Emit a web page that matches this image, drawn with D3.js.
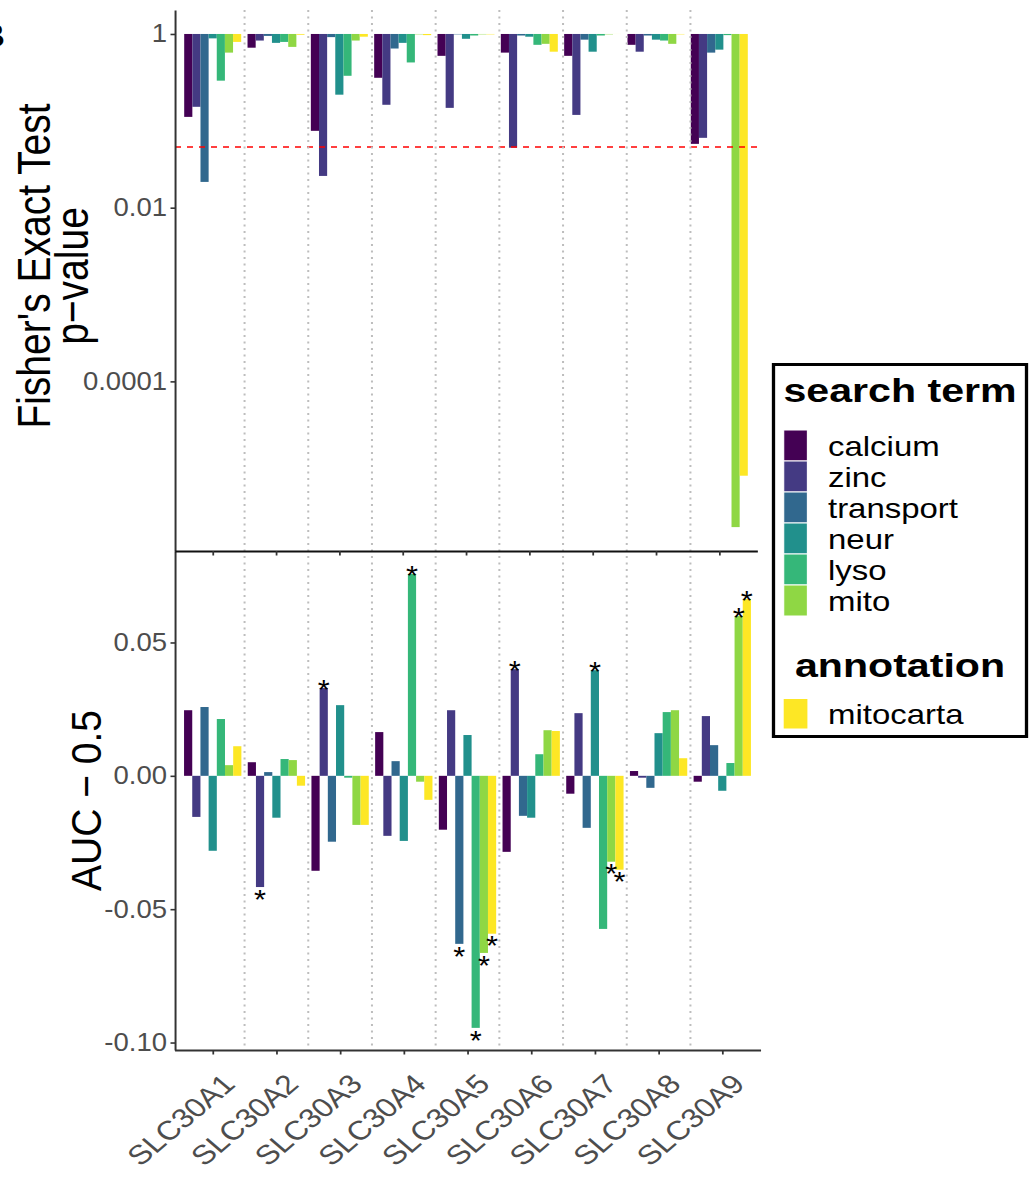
<!DOCTYPE html>
<html>
<head>
<meta charset="utf-8">
<script src="https://cdn.jsdelivr.net/npm/d3@7"></script>
<style>
  body { margin: 0; background: #fff; }
  svg { display: block; }
</style>
</head>
<body>
<script>
// data
var genes = ["SLC30A1", "SLC30A2", "SLC30A3", "SLC30A4", "SLC30A5", "SLC30A6", "SLC30A7", "SLC30A8", "SLC30A9"];
var terms = ["calcium", "zinc", "transport", "neur", "lyso", "mito", "mitocarta"];
var termColors = ["#440154", "#443A83", "#31688E", "#21908C", "#35B779", "#8FD744", "#FDE725"];

// Fisher's exact test p-values, one array per term (gene order as above)
var pCalcium   = [0.111, 0.695, 0.0767, 0.313, 0.56, 0.61, 0.56, 0.75, 0.0543];
var pZinc      = [0.145, 0.84, 0.0232, 0.153, 0.141, 0.049, 0.117, 0.625, 0.0637];
var pTransport = [0.0198, 0.95, 0.92, 0.68, 0.99, 0.96, 0.86, 0.96, 0.61];
var pNeur      = [0.89, 0.79, 0.2, 0.79, 0.88, 0.93, 0.625, 0.86, 0.66];
var pLyso      = [0.29, 0.81, 0.33, 0.47, 0.96, 0.75, 0.96, 0.84, 0.97];
var pMito      = [0.61, 0.71, 0.84, 0.99, 0.99, 0.77, 0.99, 0.77, 2.1e-6];
var pMitocarta = [0.81, 0.98, 0.93, 0.97, 0.99, 0.625, 0.999, 0.99, 8.2e-6];

// AUC - 0.5
var aucCalcium   = [0.0246, 0.0051, -0.0356, 0.0164, -0.0202, -0.0285, -0.0067, 0.0018, -0.0022];
var aucZinc      = [-0.0154, -0.0417, 0.0329, -0.0225, 0.0246, 0.0400, 0.0235, -0.0007, 0.0224];
var aucTransport = [0.0258, 0.0014, -0.0247, 0.0055, -0.0630, -0.0150, -0.0195, -0.0045, 0.0115];
var aucNeur      = [-0.0281, -0.0157, 0.0265, -0.0244, 0.0153, -0.0157, 0.0396, 0.0160, -0.0056];
var aucLyso      = [0.0213, 0.0063, -0.0007, 0.0757, -0.0945, 0.0081, -0.0574, 0.0239, 0.0048];
var aucMito      = [0.0040, 0.0059, -0.0184, -0.0022, -0.0664, 0.0171, -0.0322, 0.0246, 0.0599];
var aucMitocarta = [0.0111, -0.0037, -0.0184, -0.0090, -0.0592, 0.0168, -0.0352, 0.0066, 0.0663];

// significant AUC bars
var starred = [
  ["SLC30A2", "zinc"], ["SLC30A3", "zinc"], ["SLC30A4", "lyso"],
  ["SLC30A5", "transport"], ["SLC30A5", "lyso"], ["SLC30A5", "mito"], ["SLC30A5", "mitocarta"],
  ["SLC30A6", "zinc"], ["SLC30A7", "neur"], ["SLC30A7", "mito"], ["SLC30A7", "mitocarta"],
  ["SLC30A9", "mito"], ["SLC30A9", "mitocarta"]
];

var pTicks = [1, 0.01, 0.0001];
var pTickLabels = ["1", "0.01", "0.0001"];
var aucTicks = [-0.10, -0.05, 0.00, 0.05];
var aucTickLabels = ["-0.10", "-0.05", "0.00", "0.05"];
var pCutoff = 0.05;

var searchTerms = ["calcium", "zinc", "transport", "neur", "lyso", "mito"];
var annotations = ["mitocarta"];

var pByTerm = [pCalcium, pZinc, pTransport, pNeur, pLyso, pMito, pMitocarta];
var aucByTerm = [aucCalcium, aucZinc, aucTransport, aucNeur, aucLyso, aucMito, aucMitocarta];

// the picture is a little wider than tall, so draw in a squeezed box and stretch it
var S = 1.1;
var W = 1035 / S, H = 1183;
function ix(px) { return px / S; }

var font = "'Liberation Sans', Arial, Helvetica, sans-serif";
var grey = "#4d4d4d";

var svg = d3.select("body").append("svg")
    .attr("width", 1035)
    .attr("height", H)
    .attr("viewBox", [0, 0, W, H].join(" "))
    .attr("preserveAspectRatio", "none")
    .style("font-family", font);

var color = d3.scaleOrdinal().domain(terms).range(termColors);

var xTop = d3.scalePoint().domain(genes).range([ix(174.7), ix(757.3)]).padding(0.6);
var xBot = d3.scalePoint().domain(genes).range([ix(174.5), ix(760.5)]).padding(0.6);
var dodge = d3.scaleBand().domain(terms).range([-0.45, 0.45]);

var yTop = d3.scaleLog().domain([Math.pow(10, 0.276), Math.pow(10, -5.953)]).range([10, 551]);
var yBot = d3.scaleLinear().domain([0.0843, -0.1028]).range([551, 1050]);

var rows = [];
genes.forEach(function (g, i) {
  terms.forEach(function (t, j) {
    rows.push({gene: g, term: t, p: pByTerm[j][i], auc: aucByTerm[j][i]});
  });
});

// top: p-value bars hanging from 1
var sTop = xTop.step();
svg.append("g").selectAll("rect")
    .data(rows)
  .enter().append("rect")
    .attr("x", function (d) { return xTop(d.gene) + dodge(d.term) * sTop; })
    .attr("width", dodge.bandwidth() * sTop)
    .attr("y", yTop(1))
    .attr("height", function (d) { return yTop(d.p) - yTop(1); })
    .attr("fill", function (d) { return color(d.term); });

// bottom: AUC bars
var sBot = xBot.step();
svg.append("g").selectAll("rect")
    .data(rows)
  .enter().append("rect")
    .attr("x", function (d) { return xBot(d.gene) + dodge(d.term) * sBot; })
    .attr("width", dodge.bandwidth() * sBot)
    .attr("y", function (d) { return yBot(Math.max(0, d.auc)); })
    .attr("height", function (d) { return Math.abs(yBot(d.auc) - yBot(0)); })
    .attr("fill", function (d) { return color(d.term); });

// p = 0.05 line
svg.append("line")
    .attr("x1", ix(175)).attr("x2", ix(760))
    .attr("y1", yTop(pCutoff)).attr("y2", yTop(pCutoff))
    .attr("stroke", "#ff0000")
    .attr("stroke-width", 1.4)
    .attr("stroke-dasharray", ix(6) + "," + ix(6));

// dotted separators between genes, across both panels
svg.append("g").selectAll("line")
    .data(genes.slice(0, -1))
  .enter().append("line")
    .attr("x1", function (d) { return xBot(d) + sBot / 2; })
    .attr("x2", function (d) { return xBot(d) + sBot / 2; })
    .attr("y1", 10).attr("y2", 1048)
    .attr("stroke", "#bdbdbd")
    .attr("stroke-width", ix(2))
    .attr("stroke-dasharray", "2,4.5");

// stars
var starSize = 28;
var rowByKey = {};
rows.forEach(function (d) { rowByKey[d.gene + "|" + d.term] = d; });
svg.append("g").selectAll("text")
    .data(starred.map(function (s) { return rowByKey[s[0] + "|" + s[1]]; }))
  .enter().append("text")
    .attr("x", function (d) { return xBot(d.gene) + (dodge(d.term) + dodge.bandwidth() / 2) * sBot; })
    .attr("y", function (d) {
      var c = d.auc > 0 ? yBot(d.auc) - 5.5 : yBot(d.auc) + 5.5;
      return c + 0.58 * starSize;
    })
    .attr("text-anchor", "middle")
    .attr("font-size", starSize)
    .attr("fill", "#000")
    .text("*");

// axes
function styleAxis(g) {
  g.attr("font-family", font);
  g.select(".domain").attr("stroke", "#333").attr("stroke-width", 1.8);
  g.selectAll(".tick line").attr("stroke", "#333").attr("stroke-width", 1.6);
  g.selectAll(".tick text").attr("fill", grey).attr("font-size", 25);
}

svg.append("g")
    .attr("transform", "translate(" + ix(175) + ",0)")
    .call(d3.axisLeft(yTop).tickValues(pTicks)
      .tickFormat(function (d, i) { return pTickLabels[i]; })
      .tickSize(ix(4.5)).tickSizeOuter(0).tickPadding(ix(3.5)))
    .call(styleAxis);

svg.append("g")
    .attr("transform", "translate(" + ix(175) + ",0)")
    .call(d3.axisLeft(yBot).tickValues(aucTicks)
      .tickFormat(function (d, i) { return aucTickLabels[i]; })
      .tickSize(ix(4.5)).tickSizeOuter(0).tickPadding(ix(3.5)))
    .call(styleAxis);

svg.append("g")
    .attr("transform", "translate(0,551)")
    .call(d3.axisBottom(xTop).tickSize(4.5).tickSizeOuter(0).tickFormat(""))
    .call(styleAxis)
    .select(".domain").attr("stroke", "#111");

svg.append("g")
    .attr("transform", "translate(0,1050)")
    .call(d3.axisBottom(xBot).tickSize(4.5).tickSizeOuter(0).tickFormat(""))
    .call(styleAxis);

// gene labels at 45 degrees
svg.append("g").selectAll("text")
    .data(genes)
  .enter().append("text")
    .attr("transform", function (d) {
      return "translate(" + (xBot(d) + ix(8)) + ",1072) scale(1.07,1) rotate(-45)";
    })
    .attr("text-anchor", "end")
    .attr("dy", "0.71em")
    .attr("font-size", 27)
    .attr("fill", grey)
    .text(function (d) { return d; });

// axis titles
var tTop = svg.append("text")
    .attr("transform", "translate(" + ix(50) + ",266) scale(1.08,1) rotate(-90)")
    .attr("text-anchor", "middle")
    .attr("font-size", 39)
    .attr("fill", "#000");
tTop.append("tspan").attr("x", 0).attr("y", 0).text("Fisher's Exact Test");
tTop.append("tspan").attr("x", -10).attr("y", ix(35)).text("p\u2212value");

svg.append("text")
    .attr("transform", "translate(" + ix(101) + ",800.5) rotate(-90)")
    .attr("text-anchor", "middle")
    .attr("font-size", 39)
    .attr("fill", "#000")
    .text("AUC \u2212 0.5");

// cut-off panel tag at the top-left corner
svg.append("text")
    .attr("x", ix(5)).attr("y", 47)
    .attr("text-anchor", "end")
    .attr("font-size", 34)
    .attr("font-weight", "bold")
    .text("B");

// legend
var leg = svg.append("g");
leg.append("rect")
    .attr("x", ix(773.5)).attr("y", 364.5)
    .attr("width", ix(253)).attr("height", 372)
    .attr("fill", "#fff")
    .attr("stroke", "#000")
    .attr("stroke-width", 3);

function legendTitle(label, y) {
  leg.append("text")
      .attr("transform", "translate(" + ix(900) + "," + y + ") scale(1.1,1)")
      .attr("text-anchor", "middle")
      .attr("font-size", 34).attr("font-weight", "bold")
      .text(label);
}
legendTitle("search term", 402);

var keyH = 31, keyTop = 430;
var keys = leg.selectAll("g.key")
    .data(searchTerms)
  .enter().append("g").attr("class", "key");
keys.append("rect")
    .attr("x", ix(783.7)).attr("width", ix(23.7))
    .attr("y", function (d, i) { return keyTop + i * keyH; })
    .attr("height", keyH)
    .attr("fill", function (d) { return color(d); })
    .attr("stroke", "#fff").attr("stroke-width", 1);
keys.append("text")
    .attr("transform", function (d, i) {
      return "translate(" + ix(828) + "," + (keyTop + i * keyH + keyH / 2 + 10) + ") scale(1.07,1)";
    })
    .attr("font-size", 28)
    .text(function (d) { return d; });

legendTitle("annotation", 677);

var ann = leg.selectAll("g.ann")
    .data(annotations)
  .enter().append("g").attr("class", "ann");
ann.append("rect")
    .attr("x", ix(783.7)).attr("width", ix(23.7))
    .attr("y", function (d, i) { return 699 + i * keyH; })
    .attr("height", 29.5)
    .attr("fill", function (d) { return color(d); });
ann.append("text")
    .attr("transform", function (d, i) {
      return "translate(" + ix(828) + "," + (699 + i * keyH + 14.7 + 10) + ") scale(1.07,1)";
    })
    .attr("font-size", 28)
    .text(function (d) { return d; });
</script>
</body>
</html>
